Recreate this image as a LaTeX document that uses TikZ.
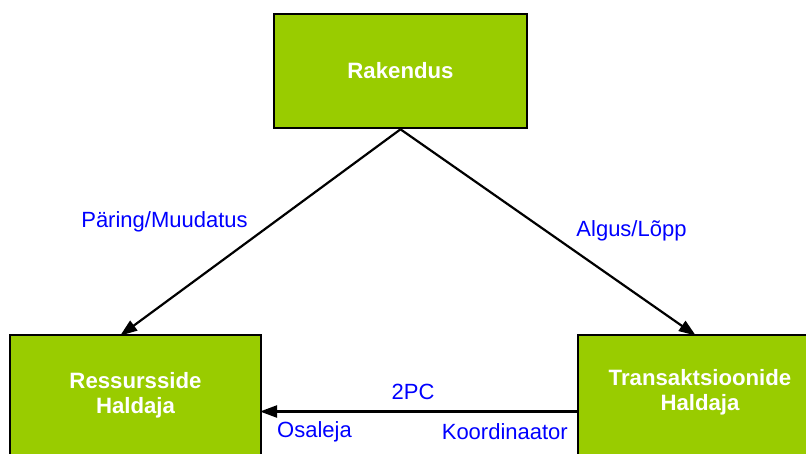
\documentclass[tikz,border=0pt]{standalone}
\usepackage{fontspec}
\setmainfont{Liberation Sans}
\usetikzlibrary{arrows.meta}
\definecolor{boxgreen}{HTML}{99CC00}
\definecolor{labelblue}{HTML}{0000FF}
\tikzset{
  greenbox/.style={draw=black, line width=2.6pt, fill=boxgreen, inner sep=0pt},
  boxtext/.style={text=white, font=\fontsize{22.2}{25.5}\selectfont\bfseries,
    align=center, inner sep=0pt},
  flow/.style={draw=black, line width=2.2pt,
    -{Triangle[length=17pt, width=12pt]}, shorten >=-1pt},
  lbl/.style={text=labelblue, font=\fontsize{22}{26}\selectfont, inner sep=0pt}
}
\begin{document}
\begin{tikzpicture}[x=1pt, y=-1pt]
  \useasboundingbox (0,0) rectangle (806,453);
  \clip (0,0) rectangle (806,453);
  \fill[white] (0,0) rectangle (806,453);

  % the three parties
  \node[greenbox, minimum width=253pt, minimum height=114pt] (rak) at (400.5,71) {};
  \node[boxtext] (rakt) at (rak.center) {Rakendus};
  \node[greenbox, minimum width=251pt, minimum height=130pt] (rh) at (135.5,400) {};
  \node[boxtext] (rht) at (135.5,395.5) {Ressursside\\Haldaja};
  \node[greenbox, minimum width=244pt, minimum height=130pt] (th) at (700,400) {};
  \node[boxtext] (tht) at (700,392.5) {Transaktsioonide\\Haldaja};

  % connectors
  \coordinate (rhtop) at (121,335);
  \coordinate (thtop) at (695,335);
  \draw[flow] (rak.south) -- (rhtop);
  \draw[flow] (rak.south) -- (thtop);
  \coordinate (thleft) at (578,411.5);
  \coordinate (rhright) at (261,411.5);
  \draw[flow] (thleft) -- (rhright);

  % labels
  \node[lbl] (l1) at (164.5,222) {Päring/Muudatus};
  \node[lbl] (l2) at (631.5,231) {Algus/Lõpp};
  \node[lbl] (l3) at (413,392) {2PC};
  \node[lbl, anchor=west] (l4) at (277,432) {Osaleja};
  \node[lbl, anchor=east] (l5) at (568,432) {Koordinaator};
\end{tikzpicture}
\end{document}
